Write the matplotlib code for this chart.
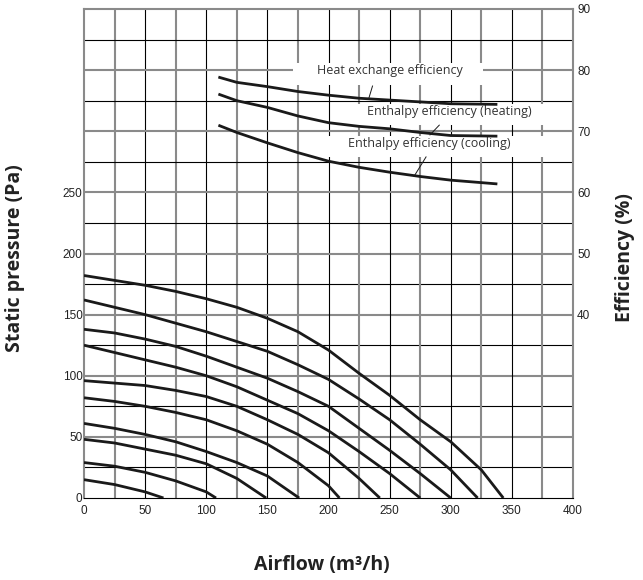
import matplotlib.pyplot as plt
from matplotlib.patches import Rectangle

# fan curves: airflow (m3/h) vs static pressure (Pa)
fan_x = [
    [0, 25, 50, 75, 100, 125, 150, 175, 200, 225, 250, 275, 300, 325, 343],
    [0, 25, 50, 75, 100, 125, 150, 175, 200, 225, 250, 275, 300, 322],
    [0, 25, 50, 75, 100, 125, 150, 175, 200, 225, 250, 275, 300],
    [0, 25, 50, 75, 100, 125, 150, 175, 200, 225, 250, 275],
    [0, 25, 50, 75, 100, 125, 150, 175, 200, 225, 242],
    [0, 25, 50, 75, 100, 125, 150, 175, 200, 209],
    [0, 25, 50, 75, 100, 125, 150, 176],
    [0, 25, 50, 75, 100, 125, 149],
    [0, 25, 50, 75, 100, 108],
    [0, 25, 50, 65],
]
fan_p = [
    [182, 178, 174, 169, 163, 156, 147, 136, 121, 102, 84, 64, 46, 23, 0],
    [162, 156, 150, 143, 136, 128, 120, 109, 97, 81, 64, 44, 23, 0],
    [138, 135, 130, 124, 116, 107, 98, 87, 75, 57, 39, 20, 0],
    [125, 119, 113, 107, 100, 91, 80, 69, 55, 38, 20, 0],
    [96, 94, 92, 88, 83, 75, 64, 52, 37, 16, 0],
    [82, 79, 75, 70, 64, 55, 44, 29, 10, 0],
    [61, 57, 52, 46, 38, 29, 18, 0],
    [48, 45, 40, 35, 28, 16, 0],
    [29, 26, 21, 14, 5, 0],
    [15, 11, 5, 0],
]

# efficiency curves (%)
eff_x = [111, 125, 150, 175, 200, 225, 250, 275, 300, 337]
heat_eff = [78.8, 78.0, 77.3, 76.5, 75.9, 75.4, 75.1, 74.8, 74.5, 74.4]
heating_eff = [76.0, 75.0, 73.9, 72.5, 71.4, 70.8, 70.4, 69.8, 69.3, 69.2]
cooling_eff = [70.9, 69.8, 68.1, 66.5, 65.1, 64.1, 63.3, 62.6, 62.0, 61.4]

fig = plt.figure(figsize=(6.43, 5.8), dpi=100)
ax = fig.add_axes([84/643, 1-498/580, 489/643, 489/580])
ax.set_xlim(0, 400)
ax.set_ylim(0, 400)
ax2 = ax.twinx()
ax2.set_ylim(10, 90)

# grid
for v in range(25, 400, 25):
    if v % 50 == 0:
        ax.axvline(v, color='black', lw=0.8, zorder=1)
        ax.axhline(v, color='#8a8a8a', lw=1.5, zorder=1)
    else:
        ax.axvline(v, color='#8a8a8a', lw=1.5, zorder=1)
        ax.axhline(v, color='black', lw=0.8, zorder=1)
for s in ['left', 'right', 'top']:
    ax.spines[s].set_color('#8a8a8a')
    ax.spines[s].set_linewidth(1.5)
ax.spines['bottom'].set_color('black')
for s in ax2.spines.values():
    s.set_visible(False)

for xs, ps in zip(fan_x, fan_p):
    ax.plot(xs, ps, color='#1a1a1a', lw=2.0, solid_capstyle='butt',
            solid_joinstyle='round', zorder=4)

for e in [heat_eff, heating_eff, cooling_eff]:
    ax2.plot(eff_x, e, color='#1a1a1a', lw=2.0, solid_joinstyle='round', zorder=4)

# label boxes hiding the grid
for x0, x1, y0, y1 in [(171, 326, 338, 356), (218, 380, 305, 322), (186, 380, 279, 296)]:
    ax.add_patch(Rectangle((x0, y0), x1-x0, y1-y0, facecolor='white',
                           edgecolor='none', zorder=2))

lab = dict(family='Open Sans', fontsize=9, color='#333333', ha='center', va='center', zorder=5)
ax.text(250, 350, 'Heat exchange efficiency', **lab)
ax.text(299, 316, 'Enthalpy efficiency (heating)', **lab)
ax.text(282.5, 290, 'Enthalpy efficiency (cooling)', **lab)
ax2.plot([236, 233], [77.4, 75.4], color='#1a1a1a', lw=0.7, zorder=5)
ax2.plot([290.6, 283], [71.0, 69.4], color='#1a1a1a', lw=0.7, zorder=5)
ax2.plot([279.8, 270.2], [65.8, 62.7], color='#1a1a1a', lw=0.7, zorder=5)

tick_font = dict(family='Liberation Sans', size=8.5)
ax.set_xticks(range(0, 401, 50))
ax.set_yticks(range(0, 251, 50))
ax.set_xticklabels([str(v) for v in range(0, 401, 50)], fontdict=tick_font, color='#222222')
ax.set_yticklabels([str(v) for v in range(0, 251, 50)], fontdict=tick_font, color='#222222')
ax2.set_yticks(range(40, 91, 10))
ax2.set_yticklabels([str(v) for v in range(40, 91, 10)], fontdict=tick_font, color='#222222')
ax.tick_params(axis='x', length=0, pad=5)
ax.tick_params(axis='y', length=0, pad=1)
ax2.tick_params(axis='y', length=0, pad=3)

axis_font = dict(family='Open Sans', fontsize=14, fontweight='bold', color='#222222')
fig.text(15/643, 1-258/580, 'Static pressure (Pa)', rotation=90, ha='center', va='center', **axis_font)
fig.text(625/643, 1-258/580, 'Efficiency (%)', rotation=90, ha='center', va='center', **axis_font)
fig.text(322/643, 1-565/580, 'Airflow (m³/h)', ha='center', va='center', **axis_font)

fig.savefig('out.png', dpi=100)
